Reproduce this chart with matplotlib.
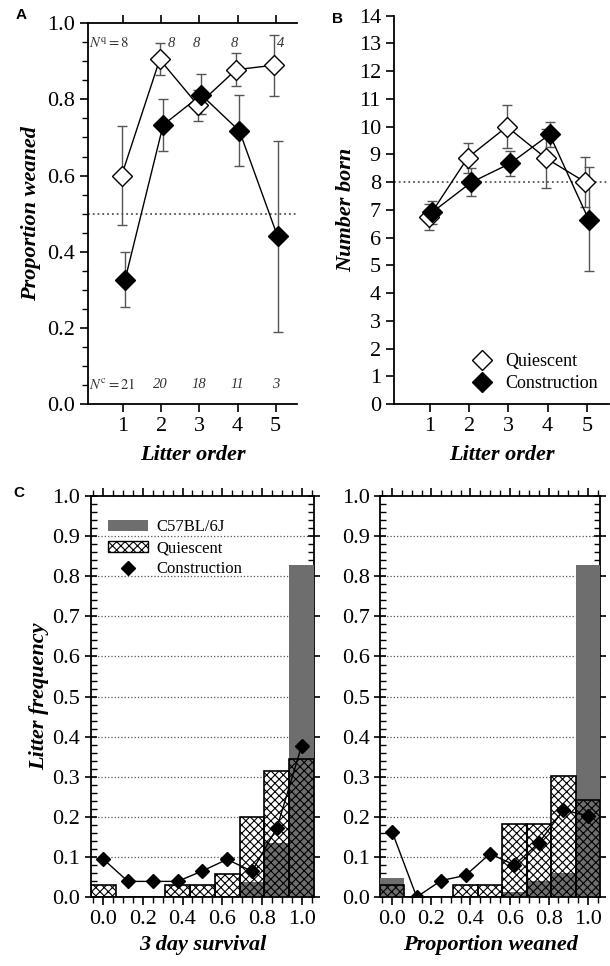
import matplotlib.pyplot as plt
import numpy as np
from matplotlib.ticker import MultipleLocator
from matplotlib.patches import Patch
from matplotlib.lines import Line2D

plt.rcParams['font.family'] = ['Liberation Serif', 'DejaVu Serif']
plt.rcParams['mathtext.fontset'] = 'stix'
plt.rcParams['hatch.linewidth'] = 0.8

litter = np.array([1, 2, 3, 4, 5])

# A: proportion weaned by litter order
wean_q = [0.60, 0.905, 0.785, 0.878, 0.89]
wean_q_lo = [0.47, 0.864, 0.744, 0.836, 0.81]
wean_q_hi = [0.729, 0.949, 0.825, 0.921, 0.969]
wean_c = [0.326, 0.733, 0.812, 0.717, 0.44]
wean_c_lo = [0.255, 0.665, 0.762, 0.624, 0.189]
wean_c_hi = [0.399, 0.80, 0.866, 0.812, 0.692]
n_q = [8, 8, 8, 8, 4]
n_c = [21, 20, 18, 11, 3]

# B: number born by litter order
born_q = [6.73, 8.88, 10.0, 8.86, 8.0]
born_q_lo = [6.28, 8.32, 9.22, 7.8, 7.09]
born_q_hi = [7.2, 9.42, 10.78, 9.9, 8.92]
born_c = [6.91, 7.99, 8.68, 9.72, 6.64]
born_c_lo = [6.49, 7.51, 8.22, 9.28, 4.81]
born_c_hi = [7.33, 8.5, 9.12, 10.18, 8.54]

# C: frequency distributions
bins = np.arange(9) * 0.125
surv_b6 = [0, 0, 0, 0, 0, 0, 0.038, 0.135, 0.829]
surv_q = [0.029, 0, 0, 0.029, 0.029, 0.058, 0.2, 0.315, 0.344]
surv_c = [0.095, 0.039, 0.039, 0.039, 0.065, 0.094, 0.064, 0.172, 0.377]
pw_b6 = [0.048, 0, 0, 0, 0, 0.012, 0.04, 0.06, 0.827]
pw_q = [0.031, 0, 0, 0.031, 0.031, 0.181, 0.181, 0.303, 0.242]
pw_c = [0.162, 0, 0.041, 0.054, 0.108, 0.08, 0.135, 0.217, 0.203]

grey = '#6e6e6e'
errc = '#555555'
lab = dict(fontsize=16, fontweight='bold', style='italic')

fig = plt.figure(figsize=(6.1, 9.66), dpi=100)
axA = fig.add_axes([0.1443, 0.5818, 0.3427, 0.3941])
axB = fig.add_axes([0.646, 0.5818, 0.352, 0.4019])
axC1 = fig.add_axes([0.1487, 0.0714, 0.3661, 0.4150])
axC2 = fig.add_axes([0.623, 0.0714, 0.3606, 0.4150])


def err(v, lo, hi):
    v = np.array(v)
    return [v - np.array(lo), np.array(hi) - v]


def litter_panel(ax, yq, qlo, qhi, yc, clo, chi):
    ax.plot(litter - 0.04, yq, color='black', lw=1, zorder=2)
    ax.plot(litter + 0.05, yc, color='black', lw=1, zorder=2)
    ax.errorbar(litter - 0.04, yq, yerr=err(yq, qlo, qhi), fmt='none',
                ecolor=errc, elinewidth=1, capsize=3.5, capthick=1, zorder=1)
    ax.errorbar(litter + 0.05, yc, yerr=err(yc, clo, chi), fmt='none',
                ecolor=errc, elinewidth=1, capsize=3.5, capthick=1, zorder=1)
    ax.plot(litter - 0.04, yq, 'D', ms=10, mfc='white', mec='black', mew=1,
            zorder=3, label='Quiescent')
    ax.plot(litter + 0.05, yc, 'D', ms=10, mfc='black', mec='black',
            zorder=4, label='Construction')
    ax.set_xlim(0.08, 5.56)
    ax.set_xticks(litter)
    ax.set_xlabel('Litter order', labelpad=6, **lab)
    ax.tick_params(labelsize=16, direction='out', width=1.2, length=6)
    for s in ax.spines.values():
        s.set_linewidth(1.3)
    ax.spines['right'].set_visible(False)


# ---- A
litter_panel(axA, wean_q, wean_q_lo, wean_q_hi, wean_c, wean_c_lo, wean_c_hi)
axA.axhline(0.5, color='#555555', ls=':', lw=1.3, zorder=0)
axA.set_ylim(0, 1.0)
axA.yaxis.set_major_locator(MultipleLocator(0.2))
axA.yaxis.set_minor_locator(MultipleLocator(0.05))
axA.yaxis.set_major_formatter(plt.FormatStrFormatter('%.1f'))
axA.tick_params(axis='y', which='minor', direction='out', length=4, width=1)
axA.tick_params(axis='x', top=True)
axA.set_ylabel('Proportion weaned', labelpad=4, **lab)
nq_x = [0.1, 2.27, 2.92, 3.92, 5.14]
nc_x = [0.1, 1.97, 2.98, 3.99, 5.01]
for i in range(5):
    if i == 0:
        tq = r'$N^{\mathrm{q}} = \mathit{%d}$' % n_q[i]
        tc = r'$N^{\mathrm{c}} = \mathit{%d}$' % n_c[i]
        ha = 'left'
    else:
        tq = str(n_q[i])
        tc = str(n_c[i])
        ha = 'center'
    axA.text(nq_x[i], 0.948, tq, ha=ha, va='center', fontsize=10.5,
             style='italic', color='#333333')
    axA.text(nc_x[i], 0.05, tc, ha=ha, va='center', fontsize=10.5,
             style='italic', color='#333333')
axA.set_zorder(2)

# ---- B
litter_panel(axB, born_q, born_q_lo, born_q_hi, born_c, born_c_lo, born_c_hi)
axB.axhline(8, color='#555555', ls=':', lw=1.3, zorder=0)
axB.set_ylim(0, 14)
axB.set_yticks(range(0, 15))
axB.spines['top'].set_visible(False)
axB.set_ylabel('Number born', labelpad=2, **lab)
axB.legend(loc='lower right', frameon=False, fontsize=13, handlelength=1,
           handletextpad=0.8, borderaxespad=0.2, labelspacing=0.3,
           bbox_to_anchor=(1.0, 0.002))


# ---- C
def freq_panel(ax, b6, q, c, xlabel):
    b6 = np.array(b6)
    q = np.array(q)
    w = 0.125
    ax.bar(bins, np.maximum(b6, q), width=w, color='white', lw=0, zorder=2)
    ax.bar(bins, b6, width=w, color=grey, lw=0, zorder=3)
    ax.bar(bins, q, width=w, facecolor='none', edgecolor='black',
           hatch='xxxx', lw=1.2, zorder=4)
    ax.plot(bins, c, color='black', lw=1, marker='D', ms=7, zorder=5)
    for g in np.arange(1, 10) * 0.1:
        ax.axhline(g, color='#555555', ls=':', lw=0.9, zorder=1)
    ax.set_xlim(-0.0625, 1.0625)
    ax.set_ylim(0, 1.0)
    ax.xaxis.set_major_locator(MultipleLocator(0.2))
    ax.xaxis.set_minor_locator(MultipleLocator(0.05))
    ax.yaxis.set_major_locator(MultipleLocator(0.1))
    ax.yaxis.set_minor_locator(MultipleLocator(0.02))
    ax.xaxis.set_major_formatter(plt.FormatStrFormatter('%.1f'))
    ax.yaxis.set_major_formatter(plt.FormatStrFormatter('%.1f'))
    ax.tick_params(labelsize=16, width=1.2)
    ax.tick_params(axis='x', which='both', direction='out', top=True)
    ax.tick_params(axis='x', which='major', length=6)
    ax.tick_params(axis='x', which='minor', length=4, width=1)
    ax.tick_params(axis='y', which='major', direction='inout', length=8,
                   right=True)
    ax.tick_params(axis='y', which='minor', direction='in', length=4,
                   width=1, right=True)
    for s in ax.spines.values():
        s.set_linewidth(1.3)
    ax.set_xlabel(xlabel, labelpad=4, **lab)


freq_panel(axC1, surv_b6, surv_q, surv_c, '3 day survival')
freq_panel(axC2, pw_b6, pw_q, pw_c, 'Proportion weaned')
axC1.set_ylabel('Litter frequency', labelpad=2, **lab)
handles = [Patch(facecolor=grey, edgecolor='none'),
           Patch(facecolor='white', edgecolor='black', hatch='xxxx'),
           Line2D([], [], color='black', marker='D', ls='none', ms=7)]
axC1.legend(handles, ['C57BL/6J', 'Quiescent', 'Construction'],
            loc='upper left', frameon=False, fontsize=12, handlelength=2.4,
            handleheight=0.6, handletextpad=0.5, labelspacing=0.3,
            borderaxespad=1.0, bbox_to_anchor=(-0.025, 1.0))

# panel letters
for x, y, t in [(0.025, 0.984, 'A'), (0.545, 0.98, 'B'), (0.022, 0.49, 'C')]:
    fig.text(x, y, t, fontsize=11, fontweight='bold',
             family='Liberation Sans', va='center')

fig.savefig('out.png', dpi=100)
